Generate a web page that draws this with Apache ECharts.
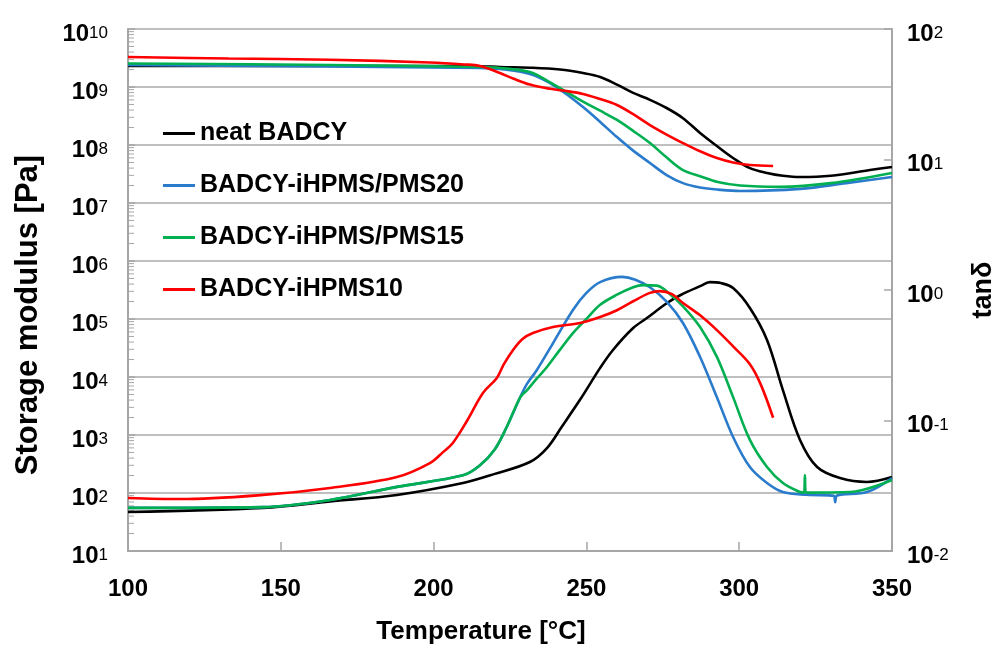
<!DOCTYPE html>
<html>
<head>
<meta charset="utf-8">
<script src="https://cdn.jsdelivr.net/npm/echarts@6/dist/echarts.min.js"></script>
<style>
html,body{margin:0;padding:0;background:#fff;}
#chart{width:996px;height:653px;}
</style>
</head>
<body>
<div id="chart"></div>
<script>
// ---- data (temperature in °C, value) ----
const seriesNames = ['neat BADCY', 'BADCY-iHPMS/PMS20', 'BADCY-iHPMS/PMS15', 'BADCY-iHPMS10'];
const seriesColors = ['#000000', '#2a7bcb', '#00b050', '#ff0000'];

// storage modulus [Pa]
const neatModulus = [[100,2.3e9],[150,2.3e9],[200,2.3e9],[215,2.28e9],[221.7,2.21e9],[231.5,2.15e9],[241.4,2.0e9],[248.9,1.74e9],[254.5,1.49e9],[260,1.1e9],[265.3,7.9e8],[270.8,6.0e8],[276.4,4.3e8],[281.6,2.9e8],[287.2,1.61e8],[292.7,9.6e7],[298,5.97e7],[303.5,4.0e7],[309.1,3.3e7],[314.3,2.95e7],[320,2.8e7],[330,2.95e7],[342.8,3.7e7],[350,4.18e7]];
const pms20Modulus = [[100,2.39e9],[166,2.25e9],[215.2,2.13e9],[221.7,2.04e9],[231.5,1.68e9],[238.1,1.17e9],[243.5,7.5e8],[248.9,4.5e8],[254.5,2.5e8],[260,1.37e8],[265.3,8.0e7],[270.8,4.9e7],[276.4,3.0e7],[281.6,2.2e7],[287.2,1.85e7],[293,1.7e7],[300.3,1.61e7],[319.9,1.75e7],[335,2.2e7],[350,2.81e7]];
const pms15Modulus = [[100,2.54e9],[166,2.4e9],[215.2,2.21e9],[221.7,2.13e9],[231.5,1.81e9],[238.1,1.2e9],[243,8.5e8],[248.9,5.6e8],[254.5,3.9e8],[260,2.7e8],[265.3,1.75e8],[270.8,1.08e8],[276.4,6.0e7],[281.6,3.7e7],[287.2,2.9e7],[293,2.3e7],[300.3,2.0e7],[313.4,1.9e7],[330,2.2e7],[350,3.29e7]];
const ihpms10Modulus = [[100,3.29e9],[133,3.1e9],[166,2.95e9],[198.8,2.65e9],[210,2.45e9],[215.2,2.3e9],[221.7,1.74e9],[226,1.4e9],[231.5,1.1e9],[238.1,9.3e8],[243,8.6e8],[248.9,7.6e8],[254.5,6.2e8],[260,4.9e8],[265.3,3.4e8],[270.8,2.21e8],[276.4,1.5e8],[281.6,1.08e8],[287.2,7.8e7],[292.7,5.97e7],[298,5.0e7],[303.5,4.52e7],[311.1,4.34e7]];

// tan delta
const neatTanDelta = [[100,0.0199],[144.2,0.0214],[166.1,0.024],[188,0.0269],[209.6,0.0332],[220,0.039],[231.5,0.0481],[237.1,0.0615],[242,0.09],[247.9,0.144],[254.5,0.253],[258.7,0.347],[265.3,0.511],[269.8,0.61],[276.4,0.795],[281,0.92],[287.2,1.07],[290.4,1.15],[294,1.13],[298,1.035],[303.5,0.728],[309.1,0.414],[314.3,0.171],[319.9,0.071],[325.5,0.044],[333,0.0362],[341.8,0.0338],[350,0.0369]];
const pms20TanDelta = [[100,0.0214],[144.2,0.0217],[166.1,0.0246],[188,0.031],[209.6,0.038],[215,0.045],[220,0.06],[224,0.09],[228.3,0.15],[230.5,0.19],[233.8,0.244],[239.1,0.392],[245.6,0.703],[250,0.95],[254.5,1.15],[261.7,1.26],[266,1.2],[270.8,1.05],[276.4,0.809],[281.6,0.559],[287.2,0.307],[292.7,0.151],[298,0.0748],[303.5,0.044],[309.1,0.0332],[314.3,0.0283],[322,0.027],[331,0.0265],[331.4,0.0237],[332,0.0266],[341.8,0.0283],[350,0.0362]];
const pms15TanDelta = [[100,0.0214],[144.2,0.0217],[166.1,0.0246],[188,0.031],[209.6,0.038],[215,0.045],[220,0.06],[224,0.09],[228.3,0.15],[230.6,0.171],[233.8,0.21],[237.1,0.257],[241,0.34],[245.6,0.468],[250,0.6],[254.5,0.77],[260,0.92],[265.3,1.05],[268.5,1.09],[273.1,1.08],[276.4,0.97],[281.6,0.75],[287.2,0.52],[292.7,0.307],[298,0.151],[303.5,0.071],[309.1,0.044],[314.3,0.0332],[319.9,0.0283],[321.2,0.028],[321.5,0.0382],[321.8,0.028],[336.3,0.0283],[350,0.035]];
const ihpms10TanDelta = [[100,0.0255],[117,0.025],[144.2,0.0269],[166.1,0.0304],[188,0.0369],[198.8,0.0472],[203,0.057],[206.3,0.0673],[211,0.1],[216.2,0.163],[220.7,0.212],[223,0.27],[226,0.347],[229,0.42],[232.5,0.468],[239.1,0.52],[247.9,0.559],[254.5,0.621],[260,0.7],[265.3,0.82],[270.8,0.95],[274,0.98],[278,0.93],[281.6,0.795],[287.2,0.64],[292.7,0.493],[298,0.37],[303.5,0.27],[307,0.19],[311.1,0.105]];

// axes
const xMin = 100, xMax = 350, xInterval = 50;
const modulusMin = 1e1, modulusMax = 1e10;
const tanDeltaMin = 1e-2, tanDeltaMax = 1e2;
// minor ticks of the log modulus axis (2..9 within each decade)
const minorTickMultipliers = [2,3,4,5,6,7,8,9];
const minorTickDecades = [1,2,3,4,5,6,7,8,9];

const minorTickData = [];
minorTickDecades.forEach(function (d) {
  minorTickMultipliers.forEach(function (m) { minorTickData.push([xMin, m * Math.pow(10, d)]); });
});

const FONT = "'Liberation Sans', Arial, sans-serif";
const AXIS_COLOR = '#a6a6a6';

function powLabel(v) {
  const e = Math.round(Math.log10(v));
  return '{b|10}{s|' + e + '}';
}
const powRich = {
  b: { fontSize: 24, fontWeight: 'bold', fontFamily: FONT, color: '#000', lineHeight: 24, verticalAlign: 'bottom' },
  s: { fontSize: 17, fontWeight: 'normal', fontFamily: FONT, color: '#000', lineHeight: 17, verticalAlign: 'top', padding: [3, 0, 0, 0] }
};

const modulusSets = [neatModulus, pms20Modulus, pms15Modulus, ihpms10Modulus];
const tanSets = [neatTanDelta, pms20TanDelta, pms15TanDelta, ihpms10TanDelta];

const series = [];
seriesNames.forEach(function (name, i) {
  series.push({
    name: name, type: 'line', yAxisIndex: 0, data: modulusSets[i],
    showSymbol: false, smooth: 0.35, lineStyle: { width: 2.6, color: seriesColors[i] },
    itemStyle: { color: seriesColors[i] }, z: 3
  });
});
seriesNames.forEach(function (name, i) {
  series.push({
    name: name, type: 'line', yAxisIndex: 1, data: tanSets[i],
    showSymbol: false, smooth: 0.35, lineStyle: { width: 2.6, color: seriesColors[i] },
    itemStyle: { color: seriesColors[i] }, z: 3
  });
});
series.push({
  type: 'custom', name: 'minorTicks', yAxisIndex: 0, silent: true, z: 1,
  data: minorTickData,
  encode: { x: 0, y: 1 },
  renderItem: function (params, api) {
    const p = api.coord([api.value(0), api.value(1)]);
    return { type: 'line', shape: { x1: p[0], y1: p[1], x2: p[0] + 6, y2: p[1] },
             style: { stroke: AXIS_COLOR, lineWidth: 1 } };
  }
});

const chart = echarts.init(document.getElementById('chart'), null, { renderer: 'canvas' });
chart.setOption({
  animation: false,
  backgroundColor: '#ffffff',
  textStyle: { fontFamily: FONT },
  grid: { left: 128, right: 104, top: 29, bottom: 102, containLabel: false, outerBoundsMode: 'none' },
  legend: {
    data: seriesNames,
    orient: 'vertical', left: 163, top: 121, padding: 0,
    itemGap: 27, itemWidth: 32, itemHeight: 3, icon: 'rect',
    textStyle: { fontSize: 25, fontWeight: 'bold', color: '#000', fontFamily: FONT, lineHeight: 24 }
  },
  xAxis: {
    type: 'value', min: xMin, max: xMax, interval: xInterval,
    name: 'Temperature [°C]', nameLocation: 'middle', nameGap: 68,
    nameTextStyle: { fontSize: 26, fontWeight: 'bold', color: '#000', fontFamily: FONT, padding: [0, 58, 0, 0] },
    axisLine: { show: true, lineStyle: { color: AXIS_COLOR, width: 2 } },
    axisTick: { show: true, inside: true, length: 9, lineStyle: { color: AXIS_COLOR, width: 1.5 } },
    axisLabel: { fontSize: 24, fontWeight: 'bold', color: '#000', fontFamily: FONT, margin: 26 },
    splitLine: { show: false }
  },
  yAxis: [
    {
      type: 'log', logBase: 10, min: modulusMin, max: modulusMax, position: 'left',
      name: 'Storage modulus [Pa]', nameLocation: 'middle', nameGap: 84, nameRotate: 90,
      nameTextStyle: { fontSize: 31, fontWeight: 'bold', color: '#000', fontFamily: FONT, padding: [0, 50, 0, 0] },
      axisLine: { show: true, lineStyle: { color: AXIS_COLOR, width: 2 } },
      axisTick: { show: true, inside: true, length: 7, lineStyle: { color: AXIS_COLOR, width: 1.5 } },
      axisLabel: { formatter: powLabel, rich: powRich, margin: 20, padding: [10, 0, 0, 0] },
      splitLine: { show: true, lineStyle: { color: '#bfbfbf', width: 2 } }
    },
    {
      type: 'log', logBase: 10, min: tanDeltaMin, max: tanDeltaMax, position: 'right',
      name: 'tanδ', nameLocation: 'middle', nameGap: 78, nameRotate: 90,
      nameTextStyle: { fontSize: 27, fontWeight: 'bold', color: '#000', fontFamily: FONT },
      axisLine: { show: true, lineStyle: { color: AXIS_COLOR, width: 2 } },
      axisTick: { show: true, inside: true, length: 8, lineStyle: { color: AXIS_COLOR, width: 1.5 } },
      axisLabel: { formatter: powLabel, rich: powRich, margin: 15, padding: [10, 0, 0, 0] },
      splitLine: { show: false }
    }
  ],
  series: series
});
</script>
</body>
</html>
